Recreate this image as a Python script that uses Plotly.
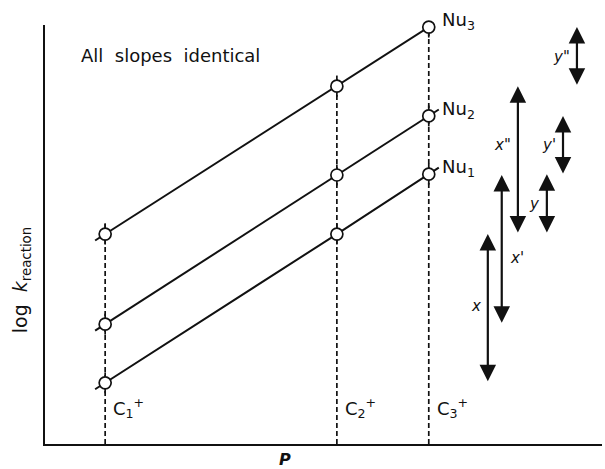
import plotly.graph_objects as go

# ---- data ----
cation_labels = ["C<sub>1</sub><sup>+</sup>", "C<sub>2</sub><sup>+</sup>", "C<sub>3</sub><sup>+</sup>"]
P_values = [1.08, 5.24, 6.89]
nu_labels = ["Nu<sub>1</sub>", "Nu<sub>2</sub>", "Nu<sub>3</sub>"]
logk_nu1 = [1.46, 5.01, 6.44]
logk_nu2 = [2.86, 6.42, 7.83]
logk_nu3 = [5.01, 8.54, 9.95]
series = [logk_nu1, logk_nu2, logk_nu3]
diff_labels_C1C2 = ["<i>x</i>", "<i>x'</i>", "<i>x\"</i>"]
diff_labels_C2C3 = ["<i>y</i>", "<i>y'</i>", "<i>y\"</i>"]

FONT = "DejaVu Sans"
BLACK = "#111111"

fig = go.Figure()

# dashed verticals at each cation
for i, p in enumerate(P_values):
    ymax = max(s[i] for s in series)
    fig.add_trace(go.Scatter(x=[p, p], y=[0, ymax + 0.25], mode="lines",
                             line=dict(color=BLACK, width=1.7, dash="5px,3px"),
                             hoverinfo="skip", showlegend=False, cliponaxis=False))
    # small solid ticks through each circle
    for s in series:
        fig.add_trace(go.Scatter(x=[p, p], y=[s[i] - 0.25, s[i] + 0.25], mode="lines",
                                 line=dict(color=BLACK, width=1.7),
                                 hoverinfo="skip", showlegend=False, cliponaxis=False))

# solid lines, slightly extended past the end circles
ext = 0.18
for s in series:
    slope0 = (s[1] - s[0]) / (P_values[1] - P_values[0])
    slope1 = (s[2] - s[1]) / (P_values[2] - P_values[1])
    xs = [P_values[0] - ext] + P_values + [P_values[-1] + ext]
    ys = [s[0] - ext * slope0] + s + [s[-1] + ext * slope1]
    fig.add_trace(go.Scatter(x=xs, y=ys, mode="lines",
                             line=dict(color=BLACK, width=2),
                             hoverinfo="skip", showlegend=False, cliponaxis=False))

# open circles
for s in series:
    fig.add_trace(go.Scatter(x=P_values, y=s, mode="markers",
                             marker=dict(symbol="circle", size=12, color="white",
                                         line=dict(color=BLACK, width=1.7)),
                             hoverinfo="skip", showlegend=False, cliponaxis=False))

annotations = []
# Nu labels
for lab, s in zip(nu_labels, series):
    annotations.append(dict(x=P_values[-1], y=s[-1], text=lab, showarrow=False,
                            xanchor="left", yanchor="middle", xshift=11, yshift=6,
                            font=dict(family=FONT, size=18, color=BLACK)))
# cation labels
for lab, p in zip(cation_labels, P_values):
    annotations.append(dict(x=p, y=0.85, text=lab, showarrow=False,
                            xanchor="left", yanchor="middle", xshift=6,
                            font=dict(family=FONT, size=18, color=BLACK)))

# double-headed arrows showing differences
arrow_x_C1C2 = [7.95, 8.20, 8.49]
arrow_x_C2C3 = [9.01, 9.30, 9.55]
side_C1C2 = ["left", "right", "left"]
label_dy_C1C2 = [0.05, -0.2, 0.35]
for k, s in enumerate(series):
    for (a, b, ax_, lab, side, dy) in [
        (s[0], s[1], arrow_x_C1C2[k], diff_labels_C1C2[k], side_C1C2[k], label_dy_C1C2[k]),
        (s[1], s[2], arrow_x_C2C3[k], diff_labels_C2C3[k], "left", 0.0),
    ]:
        annotations.append(dict(x=ax_, y=b, ax=ax_, ay=a, xref="x", yref="y",
                                axref="x", ayref="y", text="", showarrow=True,
                                arrowhead=2, startarrowhead=2, arrowside="end+start",
                                arrowsize=1.5, startarrowsize=1.5, arrowwidth=2.2,
                                arrowcolor=BLACK, standoff=0, startstandoff=0))
        annotations.append(dict(x=ax_, y=(a + b) / 2 + dy, text=lab, showarrow=False,
                                xanchor="right" if side == "left" else "left",
                                xshift=-5 if side == "left" else 6,
                                font=dict(family=FONT, size=15, color=BLACK)))

annotations.append(dict(x=0.61, y=9.28, text="All&nbsp; slopes&nbsp; identical", showarrow=False,
                        xanchor="left", yanchor="middle",
                        font=dict(family=FONT, size=18, color=BLACK)))
annotations.append(dict(x=4.3, y=-0.036, yref="paper", text="<b><i>P</i></b>", showarrow=False,
                        xanchor="center", yanchor="middle",
                        font=dict(family=FONT, size=16, color=BLACK)))
annotations.append(dict(x=-0.042, y=0.39, xref="paper", yref="paper",
                        text="log&nbsp; <i>k</i><sub>reaction</sub>", showarrow=False,
                        textangle=-90, xanchor="center", yanchor="middle",
                        font=dict(family=FONT, size=19, color=BLACK)))

fig.update_layout(
    width=605, height=469,
    margin=dict(l=45, r=3, t=25, b=25),
    paper_bgcolor="white", plot_bgcolor="white",
    showlegend=False,
    annotations=annotations,
    xaxis=dict(range=[0, 10], showgrid=False, zeroline=False, showticklabels=False,
               ticks="", showline=True, linecolor=BLACK, linewidth=2, fixedrange=True),
    yaxis=dict(range=[0, 10], showgrid=False, zeroline=False, showticklabels=False,
               ticks="", showline=True, linecolor=BLACK, linewidth=2, fixedrange=True),
)

fig.write_html("out.html")
